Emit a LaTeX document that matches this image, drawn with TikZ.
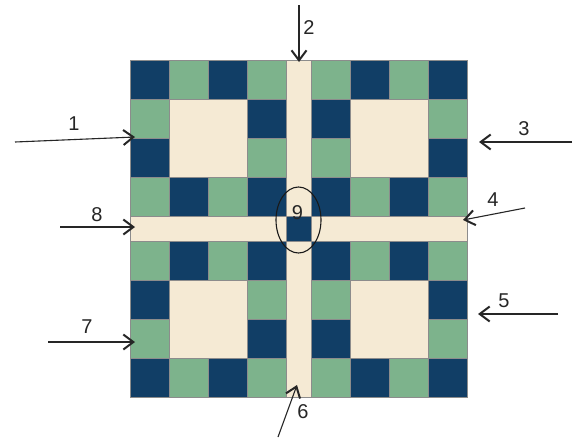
\documentclass[tikz,border=0pt]{standalone}
\usepackage{fontspec}
\setmainfont{Liberation Sans}
\usetikzlibrary{arrows.meta,shapes.geometric}
\definecolor{navy}{RGB}{17,62,102}
\definecolor{sage}{RGB}{125,179,140}
\definecolor{creme}{RGB}{245,234,212}
\begin{document}
\begin{tikzpicture}[x=1pt,y=-1pt,
  cell/.style={draw=black!45, line width=0.5pt},
  ptr/.style={draw=black!85, line width=1.1pt, -{Straight Barb[length=10pt,width=15pt,line width=2pt]}},
  lbl/.style={font=\fontsize{20}{24}\selectfont, text=black!85, inner sep=0pt}]
\useasboundingbox (0,0) rectangle (575,439);
\fill[white] (0,0) rectangle (575,439);
% sashing background
\filldraw[fill=creme, cell] (130,60) rectangle (467,397);
\foreach \bx in {0,1}{
 \foreach \by in {0,1}{
  \pgfmathsetmacro\ox{130+\bx*181}
  \pgfmathsetmacro\oy{60+\by*181}
  \foreach \i in {0,...,3}{
   \foreach \j in {0,...,3}{
     \pgfmathtruncatemacro\ii{ifthenelse(\bx==0,\i,3-\i)}
     \pgfmathtruncatemacro\jj{ifthenelse(\by==0,\j,3-\j)}
     \pgfmathtruncatemacro\inner{(\ii>0)*(\ii<3)*(\jj>0)*(\jj<3)}
     \pgfmathtruncatemacro\parity{mod(\ii+\jj,2)}
     \ifnum\inner=0
       \ifnum\parity=0 \def\cc{navy}\else\def\cc{sage}\fi
       \filldraw[fill=\cc, cell] (\ox+\i*39,\oy+\j*39) rectangle +(39,39);
     \fi
   }}
  \filldraw[fill=creme, cell] (\ox+39,\oy+39) rectangle +(78,78);
 }}
% cornerstone
\filldraw[fill=navy, cell] (286,216) rectangle (311,241);
% ellipse 9
\node[ellipse, draw=black!90, line width=1.1pt, minimum width=45pt, minimum height=66pt, inner sep=0pt] (e9) at (298.5,220) {};
\node[lbl] (l9) at (297.5,213) {9};
% arrows
\coordinate (s1) at (15,142);  \coordinate (t1) at (135,137);
\coordinate (s2) at (299,5);   \coordinate (t2) at (299,62);
\coordinate (s3) at (572,142); \coordinate (t3) at (479,142);
\coordinate (s4) at (525,208); \coordinate (t4) at (463,220);
\coordinate (s5) at (558,314); \coordinate (t5) at (478,314);
\coordinate (s6) at (278,437); \coordinate (t6) at (297,385);
\coordinate (s7) at (48,342);  \coordinate (t7) at (135,342);
\coordinate (s8) at (60,227);  \coordinate (t8) at (135,227);
\foreach \k in {1,...,8}{ \draw[ptr] (s\k) -- (t\k); }
% labels
\node[lbl] (l1) at (74,124) {1};
\node[lbl] (l2) at (309,28) {2};
\node[lbl] (l3) at (524,129) {3};
\node[lbl] (l4) at (493,200) {4};
\node[lbl] (l5) at (504,301) {5};
\node[lbl] (l6) at (303,412) {6};
\node[lbl] (l7) at (87,327) {7};
\node[lbl] (l8) at (97,215) {8};
\end{tikzpicture}
\end{document}
